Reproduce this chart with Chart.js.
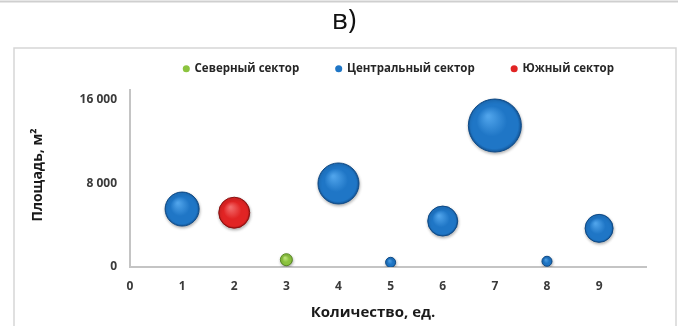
<!DOCTYPE html>
<html>
<head>
<meta charset="utf-8">
<script src="https://cdn.jsdelivr.net/npm/chart.js@4/dist/chart.umd.min.js"></script>
<style>
  html, body { margin: 0; padding: 0; background: #ffffff; }
  #wrap { width: 678px; height: 326px; position: relative; }
</style>
</head>
<body>
<div id="wrap"><canvas id="c" width="678" height="326"></canvas></div>
<script>
// Series: x = количество, y = площадь (м²), r = размер пузырька
const seriesNames = ['Северный сектор', 'Центральный сектор', 'Южный сектор'];

const northX = [3];
const northY = [700];
const northR = [6];

const centralX = [1, 4, 5, 6, 7, 8, 9];
const centralY = [5550, 8000, 450, 4400, 13550, 550, 3700];
const centralR = [17, 20.5, 5, 15, 26.5, 5, 14];

const southX = [2];
const southY = [5200];
const southR = [15.5];

const xTicks = [0, 1, 2, 3, 4, 5, 6, 7, 8, 9];
const yTicks = [0, 8000, 16000];

const heading = 'в)';
const xTitle = 'Количество, ед.';
const yTitle = 'Площадь, м²';

const FONT = '"Open Sans", "DejaVu Sans", sans-serif';

const palette = [
  { light: '#c2ea7e', base: '#8cc43f', dark: '#5f9126', border: '#5a8a25' },
  { light: '#4fa3ea', base: '#1f76c6', dark: '#14599f', border: '#0f4b87' },
  { light: '#f26a6a', base: '#e12424', dark: '#ad1616', border: '#8c1111' }
];

function points(xs, ys, rs) {
  return xs.map((x, i) => ({ x: x, y: ys[i], r: rs[i] }));
}

function bubbleFill(col) {
  return (ctx) => {
    const chart = ctx.chart;
    const raw = ctx.raw;
    if (!raw || !chart.scales || !chart.scales.x || !chart.scales.y) return col.base;
    const px = chart.scales.x.getPixelForValue(raw.x);
    const py = chart.scales.y.getPixelForValue(raw.y);
    const r = raw.r;
    if (!isFinite(px) || !isFinite(py)) return col.base;
    const g = chart.ctx.createRadialGradient(px - r * 0.25, py - r * 0.35, r * 0.05, px, py, r);
    g.addColorStop(0, col.light);
    g.addColorStop(0.55, col.base);
    g.addColorStop(0.9, col.base);
    g.addColorStop(1, col.dark);
    return g;
  };
}

function makeDataset(i, data) {
  return {
    label: seriesNames[i],
    data: data,
    backgroundColor: bubbleFill(palette[i]),
    borderColor: palette[i].border,
    borderWidth: 1,
    hoverBorderWidth: 1
  };
}

// Page decoration: top rule, frame, heading and axis titles
const decor = {
  id: 'decor',
  beforeDraw(chart) {
    const ctx = chart.ctx;
    ctx.save();
    ctx.fillStyle = '#ffffff';
    ctx.fillRect(0, 0, chart.width, chart.height);
    ctx.strokeStyle = '#cfcfcf';
    ctx.lineWidth = 2;
    ctx.beginPath();
    ctx.moveTo(0, 1.5);
    ctx.lineTo(chart.width, 1.5);
    ctx.stroke();
    ctx.strokeStyle = '#d6d6d6';
    ctx.lineWidth = 1.5;
    ctx.beginPath();
    ctx.moveTo(14, chart.height);
    ctx.lineTo(14, 48);
    ctx.lineTo(676, 48);
    ctx.lineTo(676, chart.height);
    ctx.stroke();
    ctx.fillStyle = '#111111';
    ctx.font = '28px ' + FONT;
    ctx.textAlign = 'center';
    ctx.textBaseline = 'middle';
    ctx.fillText(heading, 344, 21);
    ctx.restore();
  },
  afterDraw(chart) {
    const ctx = chart.ctx;
    ctx.save();
    ctx.fillStyle = '#1a1a1a';
    ctx.textAlign = 'center';
    ctx.textBaseline = 'middle';
    ctx.font = 'bold 15px ' + FONT;
    ctx.fillText(xTitle, 373, 313);
    ctx.font = 'bold 14px ' + FONT;
    ctx.translate(38, 175);
    ctx.rotate(-Math.PI / 2);
    ctx.fillText(yTitle, 0, 0);
    ctx.restore();
  }
};

// Soft drop shadow under the bubbles
const bubbleShadow = {
  id: 'bubbleShadow',
  beforeDatasetsDraw(chart) {
    const ctx = chart.ctx;
    ctx.save();
    ctx.shadowColor = 'rgba(0,0,0,0.28)';
    ctx.shadowBlur = 3;
    ctx.shadowOffsetX = 0.5;
    ctx.shadowOffsetY = 1.5;
  },
  afterDatasetsDraw(chart) {
    chart.ctx.restore();
  }
};

const fmt = (v) => String(v).replace(/\B(?=(\d{3})+(?!\d))/g, ' ');

// Empty scales used only to reserve space next to the plot
const spacer = (size, pos) => ({
  type: 'linear',
  position: pos,
  display: true,
  grid: { display: false, drawTicks: false },
  border: { display: false },
  ticks: { display: false },
  afterFit(s) { if (pos === 'top') s.height = size; else s.width = size; }
});

new Chart(document.getElementById('c'), {
  type: 'bubble',
  data: {
    datasets: [
      makeDataset(0, points(northX, northY, northR)),
      makeDataset(1, points(centralX, centralY, centralR)),
      makeDataset(2, points(southX, southY, southR))
    ]
  },
  options: {
    responsive: false,
    animation: false,
    devicePixelRatio: 1,
    layout: { padding: { top: 26, left: 0, right: 27, bottom: 0 } },
    plugins: {
      legend: {
        position: 'top',
        align: 'end',
        labels: {
          usePointStyle: true,
          pointStyle: 'circle',
          boxWidth: 5,
          boxHeight: 5,
          padding: 37,
          color: '#262626',
          font: { family: FONT, size: 11.5, weight: 'bold' },
          generateLabels(chart) {
            return chart.data.datasets.map((ds, i) => ({
              text: ds.label,
              fillStyle: palette[i].base,
              strokeStyle: palette[i].base,
              lineWidth: 0,
              pointStyle: 'circle',
              hidden: false,
              datasetIndex: i,
              fontColor: '#262626'
            }));
          }
        }
      },
      title: { display: false },
      tooltip: { enabled: false }
    },
    scales: {
      x: {
        type: 'linear',
        position: 'bottom',
        min: 0,
        max: 9.9,
        grid: { display: false, drawTicks: false },
        border: { display: true, color: '#c4c4c4', width: 2 },
        afterBuildTicks(s) { s.ticks = xTicks.map(v => ({ value: v })); },
        ticks: {
          padding: 12,
          color: '#3a3a3a',
          font: { family: FONT, size: 12, weight: 'bold' },
          callback: (v) => fmt(v)
        },
        afterFit(s) { s.height = 59; }
      },
      y: {
        type: 'linear',
        position: 'left',
        min: 0,
        max: 17000,
        grid: { display: false, drawTicks: false },
        border: { display: true, color: '#c4c4c4', width: 2 },
        afterBuildTicks(s) { s.ticks = yTicks.map(v => ({ value: v })); },
        ticks: {
          padding: 13,
          color: '#3a3a3a',
          font: { family: FONT, size: 12, weight: 'bold' },
          callback: (v) => fmt(v)
        },
        afterFit(s) { s.width = 130; }
      },
      gapTop: spacer(5, 'top'),
      gapRight: spacer(5, 'right')
    }
  },
  plugins: [decor, bubbleShadow]
});
</script>
</body>
</html>
